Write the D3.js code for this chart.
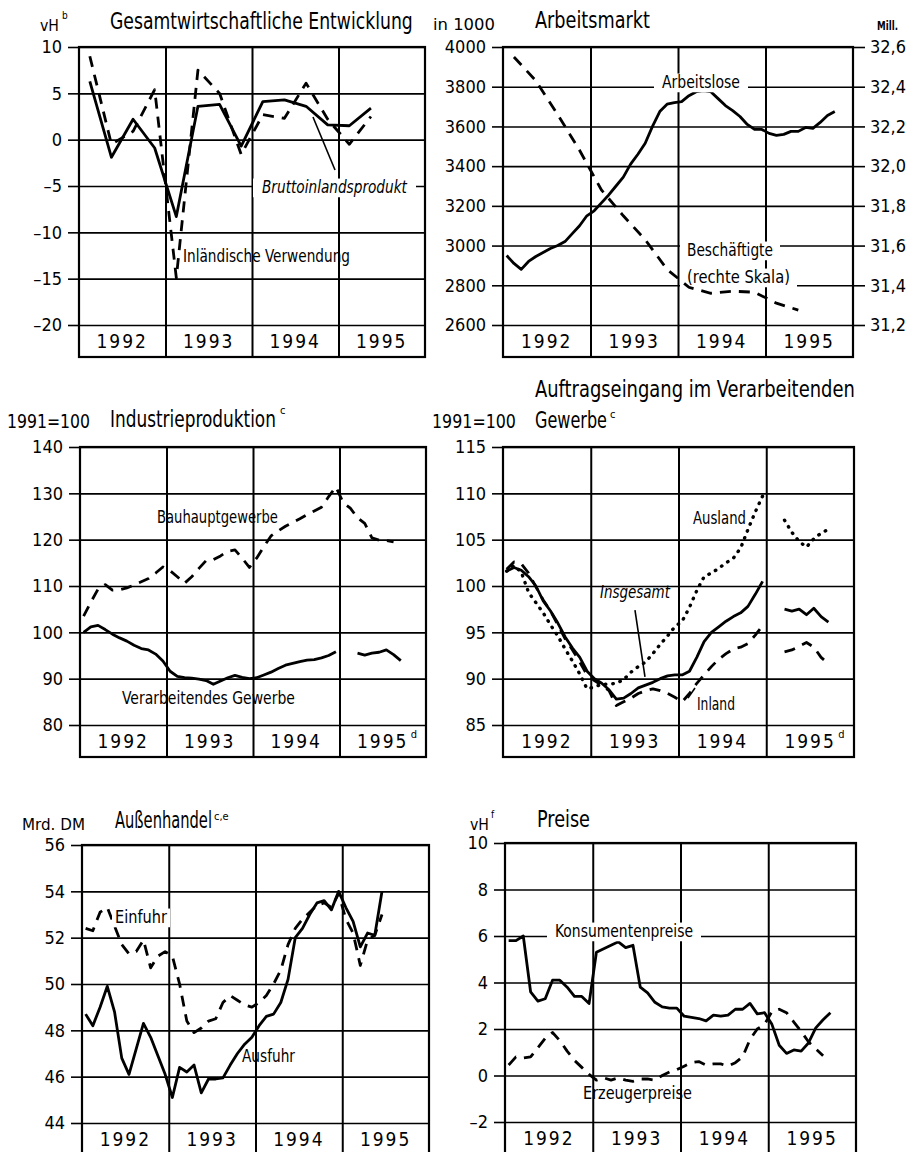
<!DOCTYPE html>
<html><head><meta charset="utf-8">
<script src="https://cdn.jsdelivr.net/npm/d3@7"></script>
<style>body{margin:0;background:#fff}</style>
</head><body><svg id="c" width="916" height="1152"></svg>
<script>
// ---------------- DATA ----------------
const yearLabels = ["1992", "1993", "1994", "1995"];

// Panel 1: Gesamtwirtschaftliche Entwicklung (quarterly, from 1992 Q1), vH
const p1Ticks = [10, 5, 0, -5, -10, -15, -20];
const bipQ = [6.3, -1.9, 2.2, -0.9, -8.3, 3.6, 3.8, -0.7, 4.1, 4.3, 3.6, 1.6, 1.5, 3.4];
const inlVerwQ = [9.0, -0.5, 0.9, 5.4, -14.9, 7.5, 5.0, -1.6, 2.7, 2.3, 6.1, 2.2, -0.5, 2.5];

// Panel 2: Arbeitsmarkt (monthly from Jan 1992), in 1000 / Mill.
const p2Ticks = [4000, 3800, 3600, 3400, 3200, 3000, 2800, 2600];
const p2RightTicks = [32.6, 32.4, 32.2, 32.0, 31.8, 31.6, 31.4, 31.2];
const arbeitsloseM = [2950, 2910, 2880, 2920, 2945, 2965, 2985, 3000, 3020, 3060, 3100, 3150,
  3175, 3215, 3255, 3300, 3345, 3410, 3460, 3515, 3600, 3675, 3712, 3720,
  3725, 3755, 3775, 3780, 3775, 3740, 3705, 3680, 3650, 3610, 3585, 3585,
  3565, 3555, 3560, 3575, 3575, 3595, 3590, 3620, 3655, 3675];
const beschaeftigteQ = [32.55, 32.43, 32.26, 32.08, 31.88, 31.75, 31.63, 31.48, 31.39, 31.36, 31.37, 31.365, 31.31, 31.275];

// Panel 3: Industrieproduktion (monthly from Jan 1992), 1991=100
const p3Ticks = [140, 130, 120, 110, 100, 90, 80];
const verarbGewerbeM = [100.0, 101.2, 101.5, 100.6, 99.6, 98.8, 98.1, 97.2, 96.5, 96.2, 95.3, 93.8,
  91.6, 90.5, 90.2, 90.1, 89.9, 89.6, 88.8, 89.5, 90.2, 90.7, 90.3, 90.0,
  90.2, 90.8, 91.4, 92.2, 92.9, 93.3, 93.7, 94.0, 94.1, 94.5, 95.0, 95.8,
  null, null, 95.5, 95.1, 95.5, 95.7, 96.2, 95.2, 93.9];
const bauhauptM = [103.5, 106.5, 109.3, 110.3, 109.1, 109.2, 109.6, 110.2, 110.9, 111.6, 112.8, 114.1,
  113.3, 112.0, 110.6, 112.0, 113.8, 115.5, 115.7, 116.5, 117.5, 117.8, 116.0, 114.0,
  116.0, 118.5, 120.8, 121.9, 122.9, 123.7, 124.5, 125.4, 126.2, 127.0, 129.3, 131.4,
  128.0, 126.8, 124.7, 123.5, 120.4, 119.9, 119.8, 119.5];

// Panel 4: Auftragseingang im Verarbeitenden Gewerbe (monthly), 1991=100
const p4Ticks = [115, 110, 105, 100, 95, 90, 85];
const insgesamtM = [101.6, 102.0, 101.7, 101.0, 100.0, 98.4, 97.3, 96.0, 94.5, 93.3, 92.3, 90.8,
  90.0, 89.5, 88.8, 87.8, 87.9, 88.4, 89.0, 89.3, 89.6, 90.0, 90.3, 90.4,
  90.4, 90.8, 92.3, 94.0, 95.0, 95.6, 96.2, 96.7, 97.1, 97.8, 99.1, 100.5,
  null, null, 97.5, 97.3, 97.5, 96.9, 97.6, 96.7, 96.1];
const auslandM = [101.6, 102.2, 101.5, 99.3, 98.2, 97.1, 95.8, 94.6, 93.2, 91.9, 90.5, 88.9,
  89.1, 89.4, 89.4, 89.5, 89.9, 90.7, 91.3, 91.8, 92.7, 93.7, 94.6, 95.6,
  96.2, 97.7, 99.5, 101.0, 101.4, 101.9, 102.5, 103.0, 104.1, 106.1, 108.0, 109.7,
  null, null, 107.1, 105.8, 104.8, 104.2, 105.1, 105.7, 106.1];
const inlandM = [101.8, 102.6, 102.4, 101.4, 99.9, 98.5, 97.3, 95.8, 94.3, 93.1, 91.8, 90.4,
  89.8, 89.3, 88.7, 87.1, 87.5, 87.9, 88.4, 88.7, 88.9, 88.7, 88.4, 88.0,
  87.5, 88.4, 89.5, 90.4, 91.3, 92.1, 92.7, 93.2, 93.4, 93.8, 94.7, 95.7,
  null, null, 92.9, 93.1, 93.5, 93.9, 93.4, 92.3, 91.6];

// Panel 5: Außenhandel (monthly), Mrd. DM
const p5Ticks = [56, 54, 52, 50, 48, 46, 44];
const ausfuhrM = [48.7, 48.2, 49.0, 49.9, 48.8, 46.8, 46.1, 47.2, 48.3, 47.7, 46.9, 46.1,
  45.1, 46.4, 46.2, 46.5, 45.3, 45.9, 45.9, 45.95, 46.5, 47.0, 47.4, 47.7,
  48.2, 48.6, 48.7, 49.2, 50.2, 52.0, 52.4, 53.0, 53.5, 53.6, 53.2, 54.0,
  53.3, 52.7, 51.6, 52.2, 52.1, 54.0];
const einfuhrM = [52.4, 52.3, 53.1, 53.3, 52.5, 51.7, 51.3, 51.4, 51.9, 50.7, 51.2, 51.4,
  51.2, 50.0, 48.4, 47.9, 48.1, 48.4, 48.5, 49.2, 49.5, 49.3, 49.1, 49.0,
  49.2, 49.5, 50.0, 50.6, 51.7, 52.4, 52.8, 53.1, 53.4, 53.5, 53.3, 53.9,
  52.8, 52.2, 50.8, 51.9, 52.1, 53.0];

// Panel 6: Preise (monthly), vH
const p6Ticks = [10, 8, 6, 4, 2, 0, -2];
const konsumM = [5.8, 5.8, 6.0, 3.6, 3.2, 3.3, 4.1, 4.1, 3.8, 3.4, 3.4, 3.1,
  5.3, 5.45, 5.6, 5.75, 5.5, 5.6, 3.8, 3.55, 3.15, 2.95, 2.9, 2.9,
  2.55, 2.5, 2.45, 2.35, 2.6, 2.55, 2.6, 2.85, 2.85, 3.1, 2.65, 2.7,
  2.2, 1.3, 0.95, 1.1, 1.05, 1.4, 2.05, 2.4, 2.7];
const erzeugerM = [0.45, 0.8, 0.75, 0.8, 1.2, 1.6, 1.85, 1.5, 1.05, 0.65, 0.35, 0.05,
  -0.2, -0.1, -0.2, -0.1, -0.2, -0.25, -0.15, -0.15, -0.2, 0.0, 0.15, 0.25,
  0.4, 0.55, 0.6, 0.45, 0.5, 0.5, 0.4, 0.55, 0.8, 1.55, 2.0, 2.2,
  2.75, 2.85, 2.7, 2.3, 1.9, 1.45, 1.15, 0.85];

// ---------------- DRAWING ----------------
const FN = "'Liberation Sans Narrow','DejaVu Sans Condensed','Arial Narrow',sans-serif";
const FD = "'DejaVu Sans Condensed','DejaVu Sans',sans-serif";
const svg = d3.select("#c");
svg.append("rect").attr("width", 916).attr("height", 1152).attr("fill", "#fff");

const monthly = arr => arr.map((v, i) => ({ t: 1992 + (i + 0.5) / 12, v }));
const quarterly = arr => arr.map((v, i) => ({ t: 1992 + (i + 0.5) / 4, v }));
const dashFmt = v => (v < 0 ? "\u2013" + Math.abs(v) : String(v));

// text placed with a horizontal scale so that its real box has the wanted width
function T(parent, x, y, s, o = {}) {
  const fs = o.fs || 17;
  const t = parent.append("text").attr("x", 0).attr("y", 0).text(s)
    .attr("font-family", o.ff || FN).attr("font-size", fs).attr("fill", "#000");
  if (o.italic) t.attr("font-style", "italic");
  if (o.bold) t.attr("font-weight", "bold");
  let sx = 1;
  if (o.w) {
    const nat = t.node().getComputedTextLength();
    if (nat > 0) sx = o.w / nat;
  }
  t.attr("transform", `translate(${x},${y}) scale(${sx},1)`);
  if (o.bg) {
    parent.insert("rect", () => t.node())
      .attr("x", x - o.bg).attr("y", y - fs * 0.85)
      .attr("width", (o.w || 0) + 2 * o.bg).attr("height", fs * 1.1)
      .attr("fill", "#fff");
  }
  return t;
}

function panel(c) {
  const g = svg.append("g");
  const x = d3.scaleLinear().domain([1992, 1996]).range([c.x0, c.x1]);
  const y = d3.scaleLinear().domain(c.dom).range([c.y1, c.y0]);
  const wid = c.x1 - c.x0;
  g.append("g").attr("transform", `translate(${c.x0},0)`)
    .call(d3.axisLeft(y).tickValues(c.ticks).tickSize(-wid).tickFormat(""))
    .call(s => s.select(".domain").remove())
    .selectAll("line").attr("stroke", "#000").attr("stroke-width", 1.6);
  g.append("g").attr("transform", `translate(${c.x0},0)`)
    .call(d3.axisLeft(y).tickValues(c.ticks).tickSize(11).tickPadding(6).tickFormat(c.fmt || dashFmt))
    .call(s => s.select(".domain").remove())
    .call(s => s.selectAll("line").attr("stroke", "#000").attr("stroke-width", 1.6))
    .call(s => s.selectAll("text").attr("font-family", FD).attr("font-size", 18).attr("fill", "#000"));
  g.append("g").attr("transform", `translate(0,${c.yb})`)
    .call(d3.axisBottom(x).tickValues([1993, 1994, 1995]).tickSize(-(c.yb - c.y0)).tickFormat(""))
    .call(s => s.select(".domain").remove())
    .selectAll("line").attr("stroke", "#000").attr("stroke-width", 2);
  g.append("rect").attr("x", c.x0).attr("y", c.y0).attr("width", wid).attr("height", c.yb - c.y0)
    .attr("fill", "none").attr("stroke", "#000").attr("stroke-width", 2.2);
  const ym = (c.y1 + c.yb) / 2;
  yearLabels.forEach((yl, i) => {
    g.append("text").attr("x", x(1992.5 + i)).attr("y", ym + 7).attr("text-anchor", "middle")
      .attr("font-family", FD).attr("font-size", 19).attr("letter-spacing", "2px").text(yl);
  });
  if (c.supD) {
    g.append("text").attr("x", x(1995.5) + 28).attr("y", c.y1 + 13)
      .attr("font-family", FN).attr("font-size", 11).text("d");
  }
  const seriesG = g.append("g");
  const labelG = g.append("g");
  function line(data, style) {
    const gen = d3.line().defined(d => d.v != null).x(d => x(d.t)).y(d => y(d.v));
    const p = seriesG.append("path").datum(data).attr("d", gen).attr("fill", "none")
      .attr("stroke", "#000").attr("stroke-linejoin", "round");
    if (style === "solid") p.attr("stroke-width", 2.8);
    if (style === "dash") p.attr("stroke-width", 2.8).attr("stroke-dasharray", "11,8");
    if (style === "dot") p.attr("stroke-width", 3.4).attr("stroke-dasharray", "0.5,7").attr("stroke-linecap", "round");
    return p;
  }
  function leader(t1, v1, t2, v2) {
    seriesG.append("line").attr("x1", x(t1)).attr("y1", y(v1)).attr("x2", x(t2)).attr("y2", y(v2))
      .attr("stroke", "#000").attr("stroke-width", 1.6);
  }
  return { g, x, y, line, leader, labelG };
}

// ---- Panel 1
{
  const p = panel({ x0: 79, x1: 425, y0: 47, y1: 325, yb: 357, dom: [-20, 10], ticks: p1Ticks });
  p.line(quarterly(inlVerwQ), "dash");
  p.line(quarterly(bipQ), "solid");
  p.leader(1994.705, 2.45, 1994.96, -3.27);
  T(p.labelG, 262, 193, "Bruttoinlandsprodukt", { fs: 17, w: 145, italic: true, bg: 9 });
  T(p.labelG, 183, 262, "Inländische Verwendung", { fs: 17, w: 167 });
  T(svg, 110, 29, "Gesamtwirtschaftliche Entwicklung", { fs: 23, w: 303 });
  T(svg, 40, 31, "vH", { fs: 15, w: 19 });
  T(svg, 62, 19, "b", { fs: 10 });
}
// ---- Panel 2
{
  const p = panel({ x0: 503, x1: 853, y0: 47, y1: 325, yb: 357, dom: [2600, 4000], ticks: p2Ticks, fmt: d => String(d) });
  const y2 = d3.scaleLinear().domain([31.2, 32.6]).range([325, 47]);
  p.g.append("g").attr("transform", "translate(853,0)")
    .call(d3.axisRight(y2).tickValues(p2RightTicks).tickSize(12).tickPadding(5).tickFormat(d => d3.format(".1f")(d).replace(".", ",")))
    .call(s => s.select(".domain").remove())
    .call(s => s.selectAll("line").attr("stroke", "#000").attr("stroke-width", 1.6))
    .call(s => s.selectAll("text").attr("font-family", FD).attr("font-size", 18).attr("fill", "#000"));
  const gen = d3.line().x(d => p.x(d.t)).y(d => y2(d.v));
  p.g.append("path").datum(quarterly(beschaeftigteQ)).attr("d", gen).attr("fill", "none")
    .attr("stroke", "#000").attr("stroke-width", 2.8).attr("stroke-dasharray", "11,8");
  p.line(monthly(arbeitsloseM), "solid");
  T(p.labelG, 662, 88, "Arbeitslose", { fs: 17, w: 78, bg: 8 });
  T(p.labelG, 687, 256, "Beschäftigte", { fs: 17, w: 86, bg: 7 });
  T(p.labelG, 687, 283, "(rechte Skala)", { fs: 17, w: 103, bg: 7 });
  T(svg, 433, 30, "in 1000", { fs: 16, w: 62 });
  T(svg, 535, 28, "Arbeitsmarkt", { fs: 23, w: 115 });
  T(svg, 877, 30, "Mill.", { fs: 13, w: 21, bold: true });
}
// ---- Panel 3
{
  const p = panel({ x0: 80, x1: 426, y0: 447, y1: 725, yb: 757, dom: [80, 140], ticks: p3Ticks, supD: true });
  p.line(monthly(bauhauptM), "dash");
  p.line(monthly(verarbGewerbeM), "solid");
  T(p.labelG, 157, 523, "Bauhauptgewerbe", { fs: 17, w: 121 });
  T(p.labelG, 122, 704, "Verarbeitendes Gewerbe", { fs: 17, w: 173 });
  T(svg, 7, 428, "1991=100", { fs: 19, w: 83 });
  T(svg, 110, 427, "Industrieproduktion", { fs: 23, w: 166 });
  T(svg, 280, 414, "c", { fs: 11 });
}
// ---- Panel 4
{
  const p = panel({ x0: 503, x1: 854, y0: 447, y1: 725, yb: 757, dom: [85, 115], ticks: p4Ticks, supD: true });
  p.line(monthly(auslandM), "dot");
  p.line(monthly(inlandM), "dash");
  p.line(monthly(insgesamtM), "solid");
  p.leader(1993.504, 97.4, 1993.618, 90.2);
  p.leader(1994.108, 87.9, 1994.188, 89.0);
  T(p.labelG, 693, 524, "Ausland", { fs: 17, w: 53 });
  T(p.labelG, 600, 598, "Insgesamt", { fs: 17, w: 70, italic: true });
  T(p.labelG, 697, 710, "Inland", { fs: 17, w: 38 });
  T(svg, 432, 428, "1991=100", { fs: 19, w: 84 });
  T(svg, 535, 397, "Auftragseingang im Verarbeitenden", { fs: 23, w: 320 });
  T(svg, 535, 428, "Gewerbe", { fs: 23, w: 72 });
  T(svg, 610, 418, "c", { fs: 11 });
}
// ---- Panel 5
{
  const p = panel({ x0: 82, x1: 429, y0: 845, y1: 1123, yb: 1155, dom: [44, 56], ticks: p5Ticks });
  p.line(monthly(einfuhrM), "dash");
  p.line(monthly(ausfuhrM), "solid");
  T(p.labelG, 115, 923, "Einfuhr", { fs: 17, w: 52, bg: 3 });
  T(p.labelG, 242, 1062, "Ausfuhr", { fs: 17, w: 53 });
  T(svg, 22, 830, "Mrd. DM", { fs: 15, w: 63 });
  T(svg, 115, 828, "Außenhandel", { fs: 23, w: 97 });
  T(svg, 214, 820, "c,e", { fs: 11 });
}
// ---- Panel 6
{
  const p = panel({ x0: 505, x1: 856, y0: 843, y1: 1122, yb: 1154, dom: [-2, 10], ticks: p6Ticks });
  p.line(monthly(erzeugerM), "dash");
  p.line(monthly(konsumM), "solid");
  T(p.labelG, 555, 937, "Konsumentenpreise", { fs: 17, w: 138, bg: 8 });
  T(p.labelG, 583, 1099, "Erzeugerpreise", { fs: 17, w: 109 });
  T(svg, 470, 830, "vH", { fs: 15, w: 19 });
  T(svg, 491, 818, "f", { fs: 10 });
  T(svg, 537, 827, "Preise", { fs: 23, w: 53 });
}
</script></body></html>
